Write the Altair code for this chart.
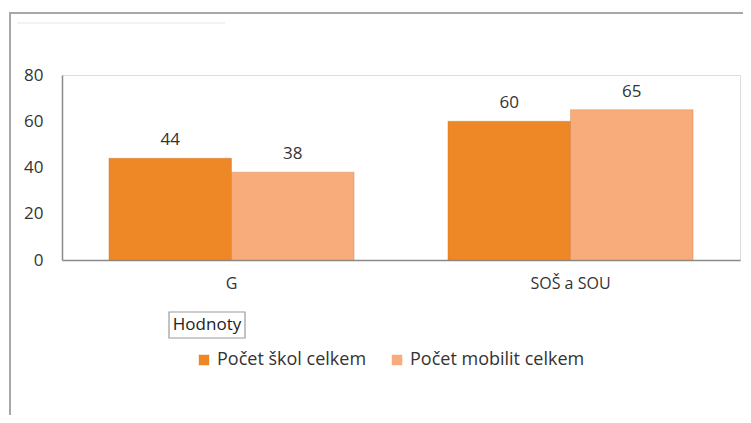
import altair as alt
import pandas as pd

categories = ["G", "SOŠ a SOU"]
series = ["Počet škol celkem", "Počet mobilit celkem"]
skol = [44, 60]
mobilit = [38, 65]
colors = ["#EE8826", "#F9AC7B"]

rows = []
for i, c in enumerate(categories):
    rows.append({"cat": c, "series": series[0], "value": skol[i]})
    rows.append({"cat": c, "series": series[1], "value": mobilit[i]})
df = pd.DataFrame(rows)
one = pd.DataFrame({"k": [0]})

FONT = "Open Sans"

x = alt.X("cat:N", sort=categories, title=None,
          scale=alt.Scale(paddingInner=0.277, paddingOuter=0.1385),
          axis=alt.Axis(labelAngle=0, ticks=False, labelPadding=15, labelFontSize=16,
                        labelColor="#333333", labelFont=FONT, domainColor="#8a8a8a", domainWidth=1.5))
xo = alt.XOffset("series:N", sort=series)
y = alt.Y("value:Q", title=None,
          scale=alt.Scale(domain=[0, 80]),
          axis=alt.Axis(values=[0, 20, 40, 60, 80], ticks=False, grid=False, labelPadding=19,
                        labelFontSize=17, labelColor="#333333", labelFont=FONT,
                        domainColor="#8a8a8a", domainWidth=1.5))

bars = alt.Chart(df).mark_bar(stroke="#b8641c", strokeWidth=0.6, strokeOpacity=0.5).encode(
    x=x, xOffset=xo, y=y,
    color=alt.Color("series:N", sort=series,
                    scale=alt.Scale(domain=series, range=colors),
                    legend=alt.Legend(title=None, orient="none", legendX=133, legendY=276,
                                      direction="horizontal", columns=2, columnPadding=21,
                                      symbolType="square", symbolSize=110, symbolStrokeWidth=0,
                                      labelFontSize=18, labelFont=FONT, labelColor="#333333",
                                      labelOffset=4, labelLimit=400, padding=0)),
)

labels = alt.Chart(df).mark_text(dy=-13, fontSize=17, font=FONT, color="#333333",
                                 baseline="alphabetic").encode(
    x=alt.X("cat:N", sort=categories), xOffset=alt.XOffset("series:N", sort=series),
    y="value:Q", text="value:Q")

frame = alt.Chart(one).mark_rect(fill=None, stroke="#a8a8a8", strokeWidth=2).encode(
    x=alt.value(-52), x2=alt.value(900), y=alt.value(-62), y2=alt.value(600))

topline = alt.Chart(one).mark_rule(color="#e6e6e6", strokeWidth=1).encode(
    x=alt.value(-45), x2=alt.value(163), y=alt.value(-52))

hbox = alt.Chart(one).mark_rect(fill="white", stroke="#9a9a9a", strokeWidth=1.2).encode(
    x=alt.value(107), x2=alt.value(183), y=alt.value(237), y2=alt.value(263))

htext = alt.Chart(one).mark_text(text="Hodnoty", fontSize=17, font=FONT, color="#222222",
                                 baseline="middle", align="center").encode(
    x=alt.value(145), y=alt.value(250))

chart = alt.layer(frame, topline, bars, labels, hbox, htext).properties(
    width=678, height=185,
    autosize=alt.AutoSizeParams(type="none"),
    padding={"left": 54, "top": 67, "right": 3, "bottom": 155},
).configure_view(stroke=None).configure(background="white")

chart.save("out.html", embed_options={"renderer": "svg", "actions": False})
